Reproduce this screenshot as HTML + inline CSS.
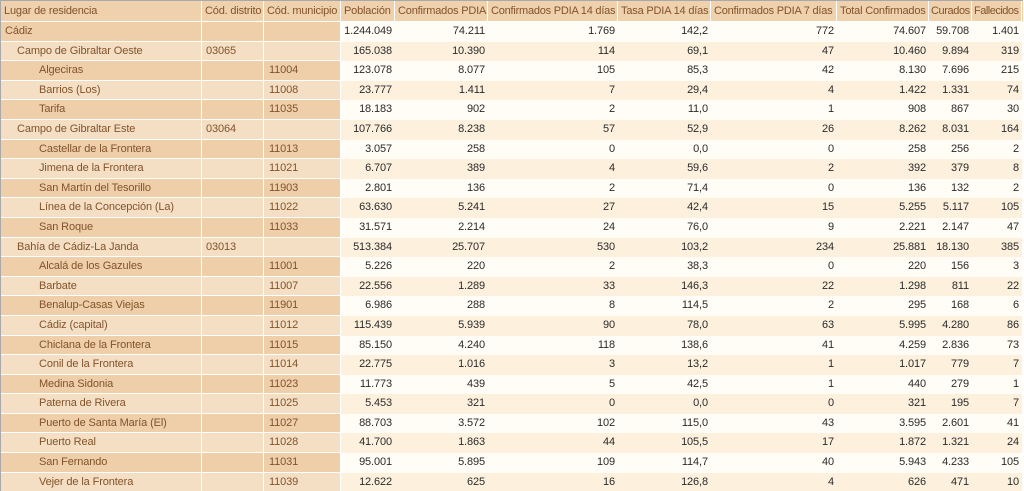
<!DOCTYPE html>
<html><head><meta charset="utf-8">
<style>
*{box-sizing:border-box;margin:0;padding:0}
html,body{width:1024px;height:491px;overflow:hidden;background:#fff}
body{font-family:"Liberation Sans","DejaVu Sans",sans-serif;font-size:11px;letter-spacing:-0.12px;position:relative}
.wrap{position:absolute;left:0;top:0;width:1023px;height:491px;border-left:1px solid #a9a9a9;border-top:1px solid #a9a9a9;overflow:hidden}
.row{display:flex;height:19.6px;line-height:19.6px;white-space:nowrap}
.hdr{height:21px;line-height:21px;background:#efd1ae;color:#82532a}
.hdr div{border-right:1px solid #fff;border-bottom:1px solid #fff;padding-left:3px;overflow:hidden;letter-spacing:-0.18px}
.c0{width:201px}.c1{width:62px}.c2{width:77px}.c3{width:54px}.c4{width:93px}.c5{width:130px}.c6{width:93px}.c7{width:126px}.c8{width:92px}.c9{width:43px}.c10{width:50px}
.hdr .c9{letter-spacing:-0.4px;padding-left:2px}
.hdr .c10{letter-spacing:-0.5px;padding-left:2px}
.hdr .c5,.hdr .c7{letter-spacing:-0.22px}
.row>div{flex:none;overflow:hidden}
.l{color:#82532a;border-right:1px solid #fff;border-bottom:1px solid #fff;padding-left:4px}
.l.c2{padding-left:5px}
.n{color:#2a2a2a;text-align:right;padding-right:3px}
.e .l{background:#eecfaa}
.o .l{background:#f5dfc4}
.e .n{background:#fffdf6}
.o .n{background:#fdf1de}
.p1{padding-left:16px!important}
.p2{padding-left:38px!important}
</style></head><body>
<div class="wrap">
<div class="row hdr"><div class="c0">Lugar de residencia</div><div class="c1">Cód. distrito</div><div class="c2">Cód. municipio</div><div class="c3">Población</div><div class="c4">Confirmados PDIA</div><div class="c5">Confirmados PDIA 14 días</div><div class="c6">Tasa PDIA 14 días</div><div class="c7">Confirmados PDIA 7 días</div><div class="c8">Total Confirmados</div><div class="c9">Curados</div><div class="c10">Fallecidos</div></div>

<div class="row e"><div class="l c0">Cádiz</div><div class="l c1"></div><div class="l c2"></div><div class="n c3">1.244.049</div><div class="n c4">74.211</div><div class="n c5">1.769</div><div class="n c6">142,2</div><div class="n c7">772</div><div class="n c8">74.607</div><div class="n c9">59.708</div><div class="n c10">1.401</div></div>
<div class="row o"><div class="l c0 p1">Campo de Gibraltar Oeste</div><div class="l c1">03065</div><div class="l c2"></div><div class="n c3">165.038</div><div class="n c4">10.390</div><div class="n c5">114</div><div class="n c6">69,1</div><div class="n c7">47</div><div class="n c8">10.460</div><div class="n c9">9.894</div><div class="n c10">319</div></div>
<div class="row e"><div class="l c0 p2">Algeciras</div><div class="l c1"></div><div class="l c2">11004</div><div class="n c3">123.078</div><div class="n c4">8.077</div><div class="n c5">105</div><div class="n c6">85,3</div><div class="n c7">42</div><div class="n c8">8.130</div><div class="n c9">7.696</div><div class="n c10">215</div></div>
<div class="row o"><div class="l c0 p2">Barrios (Los)</div><div class="l c1"></div><div class="l c2">11008</div><div class="n c3">23.777</div><div class="n c4">1.411</div><div class="n c5">7</div><div class="n c6">29,4</div><div class="n c7">4</div><div class="n c8">1.422</div><div class="n c9">1.331</div><div class="n c10">74</div></div>
<div class="row e"><div class="l c0 p2">Tarifa</div><div class="l c1"></div><div class="l c2">11035</div><div class="n c3">18.183</div><div class="n c4">902</div><div class="n c5">2</div><div class="n c6">11,0</div><div class="n c7">1</div><div class="n c8">908</div><div class="n c9">867</div><div class="n c10">30</div></div>
<div class="row o"><div class="l c0 p1">Campo de Gibraltar Este</div><div class="l c1">03064</div><div class="l c2"></div><div class="n c3">107.766</div><div class="n c4">8.238</div><div class="n c5">57</div><div class="n c6">52,9</div><div class="n c7">26</div><div class="n c8">8.262</div><div class="n c9">8.031</div><div class="n c10">164</div></div>
<div class="row e"><div class="l c0 p2">Castellar de la Frontera</div><div class="l c1"></div><div class="l c2">11013</div><div class="n c3">3.057</div><div class="n c4">258</div><div class="n c5">0</div><div class="n c6">0,0</div><div class="n c7">0</div><div class="n c8">258</div><div class="n c9">256</div><div class="n c10">2</div></div>
<div class="row o"><div class="l c0 p2">Jimena de la Frontera</div><div class="l c1"></div><div class="l c2">11021</div><div class="n c3">6.707</div><div class="n c4">389</div><div class="n c5">4</div><div class="n c6">59,6</div><div class="n c7">2</div><div class="n c8">392</div><div class="n c9">379</div><div class="n c10">8</div></div>
<div class="row e"><div class="l c0 p2">San Martín del Tesorillo</div><div class="l c1"></div><div class="l c2">11903</div><div class="n c3">2.801</div><div class="n c4">136</div><div class="n c5">2</div><div class="n c6">71,4</div><div class="n c7">0</div><div class="n c8">136</div><div class="n c9">132</div><div class="n c10">2</div></div>
<div class="row o"><div class="l c0 p2">Línea de la Concepción (La)</div><div class="l c1"></div><div class="l c2">11022</div><div class="n c3">63.630</div><div class="n c4">5.241</div><div class="n c5">27</div><div class="n c6">42,4</div><div class="n c7">15</div><div class="n c8">5.255</div><div class="n c9">5.117</div><div class="n c10">105</div></div>
<div class="row e"><div class="l c0 p2">San Roque</div><div class="l c1"></div><div class="l c2">11033</div><div class="n c3">31.571</div><div class="n c4">2.214</div><div class="n c5">24</div><div class="n c6">76,0</div><div class="n c7">9</div><div class="n c8">2.221</div><div class="n c9">2.147</div><div class="n c10">47</div></div>
<div class="row o"><div class="l c0 p1">Bahía de Cádiz-La Janda</div><div class="l c1">03013</div><div class="l c2"></div><div class="n c3">513.384</div><div class="n c4">25.707</div><div class="n c5">530</div><div class="n c6">103,2</div><div class="n c7">234</div><div class="n c8">25.881</div><div class="n c9">18.130</div><div class="n c10">385</div></div>
<div class="row e"><div class="l c0 p2">Alcalá de los Gazules</div><div class="l c1"></div><div class="l c2">11001</div><div class="n c3">5.226</div><div class="n c4">220</div><div class="n c5">2</div><div class="n c6">38,3</div><div class="n c7">0</div><div class="n c8">220</div><div class="n c9">156</div><div class="n c10">3</div></div>
<div class="row o"><div class="l c0 p2">Barbate</div><div class="l c1"></div><div class="l c2">11007</div><div class="n c3">22.556</div><div class="n c4">1.289</div><div class="n c5">33</div><div class="n c6">146,3</div><div class="n c7">22</div><div class="n c8">1.298</div><div class="n c9">811</div><div class="n c10">22</div></div>
<div class="row e"><div class="l c0 p2">Benalup-Casas Viejas</div><div class="l c1"></div><div class="l c2">11901</div><div class="n c3">6.986</div><div class="n c4">288</div><div class="n c5">8</div><div class="n c6">114,5</div><div class="n c7">2</div><div class="n c8">295</div><div class="n c9">168</div><div class="n c10">6</div></div>
<div class="row o"><div class="l c0 p2">Cádiz (capital)</div><div class="l c1"></div><div class="l c2">11012</div><div class="n c3">115.439</div><div class="n c4">5.939</div><div class="n c5">90</div><div class="n c6">78,0</div><div class="n c7">63</div><div class="n c8">5.995</div><div class="n c9">4.280</div><div class="n c10">86</div></div>
<div class="row e"><div class="l c0 p2">Chiclana de la Frontera</div><div class="l c1"></div><div class="l c2">11015</div><div class="n c3">85.150</div><div class="n c4">4.240</div><div class="n c5">118</div><div class="n c6">138,6</div><div class="n c7">41</div><div class="n c8">4.259</div><div class="n c9">2.836</div><div class="n c10">73</div></div>
<div class="row o"><div class="l c0 p2">Conil de la Frontera</div><div class="l c1"></div><div class="l c2">11014</div><div class="n c3">22.775</div><div class="n c4">1.016</div><div class="n c5">3</div><div class="n c6">13,2</div><div class="n c7">1</div><div class="n c8">1.017</div><div class="n c9">779</div><div class="n c10">7</div></div>
<div class="row e"><div class="l c0 p2">Medina Sidonia</div><div class="l c1"></div><div class="l c2">11023</div><div class="n c3">11.773</div><div class="n c4">439</div><div class="n c5">5</div><div class="n c6">42,5</div><div class="n c7">1</div><div class="n c8">440</div><div class="n c9">279</div><div class="n c10">1</div></div>
<div class="row o"><div class="l c0 p2">Paterna de Rivera</div><div class="l c1"></div><div class="l c2">11025</div><div class="n c3">5.453</div><div class="n c4">321</div><div class="n c5">0</div><div class="n c6">0,0</div><div class="n c7">0</div><div class="n c8">321</div><div class="n c9">195</div><div class="n c10">7</div></div>
<div class="row e"><div class="l c0 p2">Puerto de Santa María (El)</div><div class="l c1"></div><div class="l c2">11027</div><div class="n c3">88.703</div><div class="n c4">3.572</div><div class="n c5">102</div><div class="n c6">115,0</div><div class="n c7">43</div><div class="n c8">3.595</div><div class="n c9">2.601</div><div class="n c10">41</div></div>
<div class="row o"><div class="l c0 p2">Puerto Real</div><div class="l c1"></div><div class="l c2">11028</div><div class="n c3">41.700</div><div class="n c4">1.863</div><div class="n c5">44</div><div class="n c6">105,5</div><div class="n c7">17</div><div class="n c8">1.872</div><div class="n c9">1.321</div><div class="n c10">24</div></div>
<div class="row e"><div class="l c0 p2">San Fernando</div><div class="l c1"></div><div class="l c2">11031</div><div class="n c3">95.001</div><div class="n c4">5.895</div><div class="n c5">109</div><div class="n c6">114,7</div><div class="n c7">40</div><div class="n c8">5.943</div><div class="n c9">4.233</div><div class="n c10">105</div></div>
<div class="row o"><div class="l c0 p2">Vejer de la Frontera</div><div class="l c1"></div><div class="l c2">11039</div><div class="n c3">12.622</div><div class="n c4">625</div><div class="n c5">16</div><div class="n c6">126,8</div><div class="n c7">4</div><div class="n c8">626</div><div class="n c9">471</div><div class="n c10">10</div></div>
</div>
</body></html>
